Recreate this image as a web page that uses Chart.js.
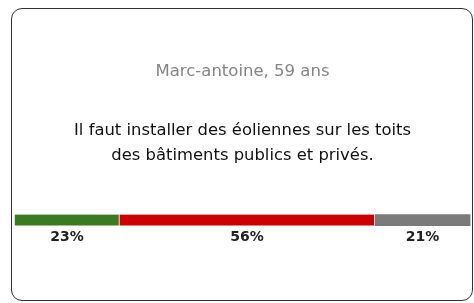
<!DOCTYPE html>
<html>
<head>
<meta charset="utf-8">
<script src="https://cdn.jsdelivr.net/npm/chart.js@4"></script>
<style>
  html, body { margin: 0; padding: 0; background: #fff; }
  #card {
    position: absolute; left: 11px; top: 8px; width: 460px; height: 291px;
    border: 1.5px solid #333; border-radius: 11px; background: #fff;
  }
  #card canvas { display: block; }
</style>
</head>
<body>
<div id="card"><canvas id="myChart"></canvas></div>
<script>
// data
var person = "Marc-antoine, 59 ans";
var statement = ["Il faut installer des éoliennes sur les toits", "des bâtiments publics et privés."];
var answers = ["D'accord", "Pas d'accord", "Sans avis"];
var shares = [23, 56, 21];
var colors = ['#3a7a22', '#cc0000', '#7b7b7b'];

var FONT = "'DejaVu Sans', sans-serif";

// draw the percentages under each bar segment
var pctLabels = {
    id: 'pctLabels',
    afterDatasetsDraw: function (chart) {
        var ctx = chart.ctx;
        ctx.save();
        ctx.font = "bold 14px " + FONT;
        ctx.fillStyle = '#222';
        ctx.textAlign = 'center';
        ctx.textBaseline = 'middle';
        chart.data.datasets.forEach(function (ds, i) {
            var bar = chart.getDatasetMeta(i).data[0];
            var p = bar.getProps(['x', 'base', 'y', 'height'], true);
            ctx.fillText(ds.data[0] + '%', (p.x + p.base) / 2, p.y + p.height / 2 + 12);
        });
        ctx.restore();
    }
};

function BuildChart() {
    var ctx = document.getElementById("myChart").getContext('2d');
    var datasets = answers.map(function (a, i) {
        return {
            label: a,
            data: [shares[i]],
            backgroundColor: colors[i],
            borderColor: '#f3e0d8',
            borderWidth: i < answers.length - 1 ? { right: 1, left: 0, top: 0, bottom: 0 } : 0,
            borderSkipped: false,
            barThickness: 11
        };
    });
    return new Chart(ctx, {
        type: 'bar',
        data: { labels: [person], datasets: datasets },
        options: {
            indexAxis: 'y',
            responsive: true,
            maintainAspectRatio: false,
            animation: false,
            layout: { padding: { left: 2.5, right: 1.5, top: 0, bottom: 38 } },
            scales: {
                x: { stacked: true, min: 0, max: 100, display: false },
                y: { stacked: true, display: false }
            },
            plugins: {
                legend: { display: false },
                tooltip: { enabled: false },
                title: {
                    display: true,
                    text: person,
                    color: '#858585',
                    font: { family: FONT, size: 16.5, weight: 'normal' },
                    padding: { top: 53, bottom: 36.5 }
                },
                subtitle: {
                    display: true,
                    text: statement,
                    color: '#111',
                    font: { family: FONT, size: 16.4, weight: 'normal', lineHeight: 1.52 },
                    padding: { top: 0, bottom: 10 }
                }
            }
        },
        plugins: [pctLabels]
    });
}

window.onload = function () {
    BuildChart();
};
</script>
</body>
</html>
